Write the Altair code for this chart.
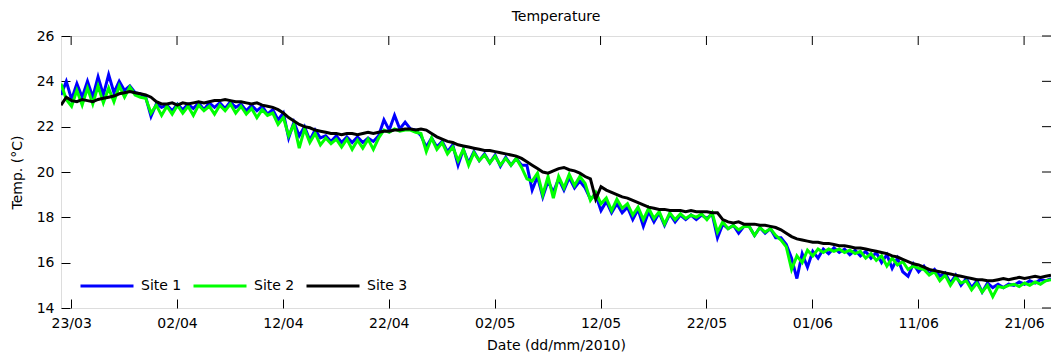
import altair as alt
import pandas as pd

# Half-day readings starting 22/03/2010 01:00
START = "2010-03-22T01:00:00"
END = "2010-06-23T13:00:00"

site1 = [
    23.4, 24.0, 23.2, 23.9, 23.3, 24.0, 23.3, 24.2, 23.4, 24.3,
    23.5, 24.0, 23.6, 23.8, 23.5, 23.45, 23.3, 22.45, 23.0, 22.85,
    22.95, 22.7, 23.0, 22.75, 23.0, 22.8, 23.05, 22.75, 23.05, 22.85,
    23.05, 22.8, 23.1, 22.85, 23.0, 22.7, 22.95, 22.7, 22.9, 22.55,
    22.75, 22.3, 22.6, 21.5, 22.2, 21.6, 22.0, 21.4, 21.85, 21.5,
    21.6, 21.35, 21.6, 21.3, 21.55, 21.3, 21.55, 21.3, 21.5, 21.35,
    21.6, 22.3, 21.85, 22.5, 21.9, 22.2, 21.9, 21.85, 21.6, 21.1,
    21.5, 21.1, 21.35, 20.9, 21.2, 20.3, 21.0, 20.4, 20.9, 20.5,
    20.8, 20.4, 20.75, 20.25, 20.65, 20.3, 20.6, 20.3, 20.3, 19.2,
    19.8, 18.9, 19.6, 19.1, 19.7, 19.2, 19.75, 19.3, 19.6, 19.3,
    18.8, 19.0, 18.3, 18.7, 18.2, 18.6, 18.2, 18.45, 17.9, 18.35,
    17.6, 18.25, 17.8, 18.2, 17.65, 18.15, 17.8, 18.1, 17.9, 18.1,
    17.9, 18.1, 17.95, 18.15, 17.1, 17.7, 17.5, 17.65, 17.3, 17.6,
    17.6, 17.2, 17.55, 17.3, 17.5, 17.1, 17.1, 16.8, 16.2, 15.3,
    16.4, 15.8, 16.5, 16.2, 16.6, 16.4, 16.65, 16.45, 16.6, 16.35,
    16.55, 16.3, 16.5, 16.2, 16.45, 16.0, 16.35, 15.75, 16.2, 15.6,
    15.4, 15.95, 15.6, 15.85, 15.5, 15.7, 15.4, 15.55, 15.1, 15.45,
    15.0, 15.3, 14.9, 15.2, 14.7, 15.1, 14.9, 15.05, 14.9, 15.05,
    15.0, 15.15, 15.05, 15.2, 15.1, 15.25, 15.2, 15.3,
]

site2 = [
    23.9, 23.2, 22.9, 23.6, 22.95, 23.7, 23.0, 23.8, 23.05, 23.7,
    23.1, 23.8, 23.3, 23.75, 23.4, 23.3, 23.25, 22.6, 22.95, 22.5,
    22.9, 22.55, 22.95, 22.6, 22.9, 22.5, 22.95, 22.7, 22.9, 22.55,
    22.95, 22.7, 23.0, 22.6, 22.9, 22.55, 22.8, 22.4, 22.75, 22.5,
    22.6, 22.1, 22.4, 21.6, 22.1, 21.05, 21.9, 21.3, 21.7, 21.2,
    21.5, 21.25, 21.45, 21.1, 21.45, 21.0, 21.4, 21.05, 21.45, 21.0,
    21.5, 21.85, 21.75, 21.9, 21.8, 21.85, 21.85, 21.75, 21.7, 20.9,
    21.5, 21.0, 21.3, 20.8, 21.1, 20.5, 21.0, 20.3, 20.85, 20.5,
    20.75, 20.4, 20.7, 20.3, 20.6, 20.3, 20.6, 20.2, 19.7, 19.6,
    19.95, 19.0, 19.8, 18.85, 19.8, 19.3, 19.9, 19.4, 19.8, 19.5,
    18.75, 19.1, 18.6, 18.85, 18.3, 18.8, 18.4, 18.6, 18.1, 18.45,
    17.9, 18.4, 17.95, 18.25, 17.7, 18.2, 17.9, 18.15, 17.95, 18.1,
    18.0, 18.15, 17.9, 18.2, 17.35, 17.8, 17.5, 17.65, 17.45, 17.6,
    17.6, 17.2, 17.55, 17.35, 17.5, 17.2, 17.0, 16.7, 15.7, 16.3,
    16.0, 16.55, 16.3, 16.6, 16.45, 16.6, 16.5, 16.6, 16.45, 16.55,
    16.4, 16.5, 16.2, 16.4, 16.1, 16.3, 15.85, 16.2, 15.9, 16.05,
    15.7, 15.85, 15.75, 15.7, 15.45, 15.6, 15.2, 15.45, 15.0, 15.35,
    15.1, 15.2, 14.8, 15.1, 14.7, 15.0, 14.5, 14.95, 14.9, 15.0,
    15.05, 14.95, 15.1, 15.0, 15.15, 15.05, 15.2, 15.25,
]

site3 = [
    22.95, 23.3, 23.15, 23.1, 23.2, 23.15, 23.1, 23.2, 23.25, 23.3,
    23.35, 23.45, 23.5, 23.55, 23.5, 23.45, 23.4, 23.3, 23.1, 23.0,
    23.0, 23.05, 22.95, 23.05, 23.0, 23.05, 23.1, 23.05, 23.1, 23.15,
    23.15, 23.2, 23.15, 23.1, 23.1, 23.05, 23.0, 23.05, 22.95, 22.9,
    22.85, 22.75, 22.6, 22.4, 22.25, 22.1, 22.0, 21.95, 21.85, 21.8,
    21.75, 21.7, 21.7, 21.65, 21.7, 21.7, 21.65, 21.7, 21.75, 21.7,
    21.75, 21.8, 21.8, 21.85, 21.85, 21.9, 21.9, 21.85, 21.9, 21.85,
    21.7, 21.55, 21.45, 21.35, 21.3, 21.2, 21.15, 21.1, 21.05, 21.0,
    20.95, 20.95, 20.9, 20.85, 20.8, 20.75, 20.7, 20.6, 20.45, 20.3,
    20.15, 20.0, 19.95, 20.05, 20.15, 20.2, 20.1, 20.05, 19.95, 19.8,
    19.7, 18.8, 19.35, 19.2, 19.1, 19.0, 18.9, 18.85, 18.75, 18.65,
    18.55, 18.45, 18.4, 18.35, 18.35, 18.3, 18.3, 18.3, 18.25, 18.3,
    18.25, 18.25, 18.25, 18.2, 18.2, 17.9, 17.8, 17.75, 17.8, 17.7,
    17.7, 17.7, 17.65, 17.65, 17.6, 17.55, 17.45, 17.3, 17.15, 17.05,
    17.0, 16.95, 16.9, 16.9, 16.85, 16.85, 16.8, 16.75, 16.75, 16.7,
    16.65, 16.65, 16.6, 16.55, 16.5, 16.45, 16.4, 16.3, 16.25, 16.15,
    16.05, 15.95, 15.9, 15.8, 15.7, 15.65, 15.6, 15.55, 15.5, 15.45,
    15.4, 15.35, 15.3, 15.25, 15.25, 15.2, 15.2, 15.25, 15.3, 15.25,
    15.3, 15.35, 15.3, 15.35, 15.4, 15.35, 15.4, 15.45,
]

series_names = ["Site 1", "Site 2", "Site 3"]
series_colors = ["#0000ff", "#00ff00", "#000000"]

date_ticks = [
    "2010-03-23T00:00:00", "2010-04-02T00:00:00", "2010-04-12T00:00:00",
    "2010-04-22T00:00:00", "2010-05-02T00:00:00", "2010-05-12T00:00:00",
    "2010-05-22T00:00:00", "2010-06-01T00:00:00", "2010-06-11T00:00:00",
    "2010-06-21T00:00:00",
]
temp_ticks = [14, 16, 18, 20, 22, 24, 26]

FONT = "DejaVu Sans"
TICK_LEN = 9


def frame(name, values):
    times = pd.date_range(START, periods=len(values), freq="12h")
    return pd.DataFrame({
        "t": times.strftime("%Y-%m-%dT%H:%M:%S"),
        "v": values,
        "site": name,
    })


data = pd.concat(
    [frame(n, v) for n, v in zip(series_names, [site1, site2, site3])],
    ignore_index=True,
)
date_tick_df = pd.DataFrame({"t": date_ticks})
temp_tick_df = pd.DataFrame({"v": temp_ticks})

x_scale = alt.Scale(domain=[START, END])
y_scale = alt.Scale(domain=[14, 26], nice=False, zero=False)
color_scale = alt.Scale(domain=series_names, range=series_colors)

# Bottom and left ticks point into the box: each axis is pulled inside
# by its tick length and carries no domain line (the view stroke is the box).
common_axis = dict(
    grid=False, domain=False, tickSize=TICK_LEN, offset=-TICK_LEN,
    tickColor="black", tickWidth=1, labelFont=FONT, labelFontSize=14,
    labelColor="black", titleFont=FONT, titleFontSize=14,
    titleFontWeight="normal", titleColor="black",
)

x_axis = alt.Axis(
    orient="bottom", values=date_ticks, format="%d/%m", labelPadding=8,
    title="Date (dd/mm/2010)", titlePadding=8, labelFlush=False,
    labelOverlap=False, **common_axis,
)
y_axis = alt.Axis(
    orient="left", values=temp_ticks, labelPadding=7,
    title="Temp. (°C)", titlePadding=12, **common_axis,
)

legend = alt.Legend(
    title=None, orient="none", direction="horizontal", legendX=18,
    legendY=222, padding=0, symbolType="stroke", symbolSize=2809,
    symbolStrokeWidth=3, labelFont=FONT, labelFontSize=14,
    labelColor="black", labelOffset=6, columnPadding=5,
)

X = alt.X("t:T", scale=x_scale, axis=x_axis)
Y = alt.Y("v:Q", scale=y_scale, axis=y_axis)


def site_layer(name):
    return (
        alt.Chart(data)
        .transform_filter(alt.datum.site == name)
        .mark_line(strokeWidth=3, clip=True)
        .encode(
            x=X, y=Y,
            color=alt.Color("site:N", scale=color_scale, legend=legend),
        )
    )


# Inward ticks along the top edge, at the same dates as the bottom axis
top_ticks = (
    alt.Chart(date_tick_df)
    .mark_rule(color="black", strokeWidth=1)
    .encode(x=X, y=alt.value(0), y2=alt.value(TICK_LEN))
)

# Inward ticks along the right edge, at the same values as the left axis
right_ticks = (
    alt.Chart(temp_tick_df)
    .mark_rule(color="black", strokeWidth=1)
    .encode(y=Y, x=alt.value(990 - TICK_LEN), x2=alt.value(990))
)

chart = (
    alt.layer(
        *[site_layer(n) for n in series_names],
        top_ticks,
        right_ticks,
    )
    .properties(
        width=990, height=272,
        padding={"left": 61, "top": 36, "right": 0, "bottom": 50},
        autosize=alt.AutoSizeParams(type="none"),
        title=alt.Title(
            "Temperature", font=FONT, fontSize=14, fontWeight="normal",
            color="black", offset=5,
        ),
    )
    .configure_view(stroke="black", strokeWidth=1)
    .configure(background="white")
)

chart.save("out.html", embed_options={"renderer": "svg", "actions": False})
